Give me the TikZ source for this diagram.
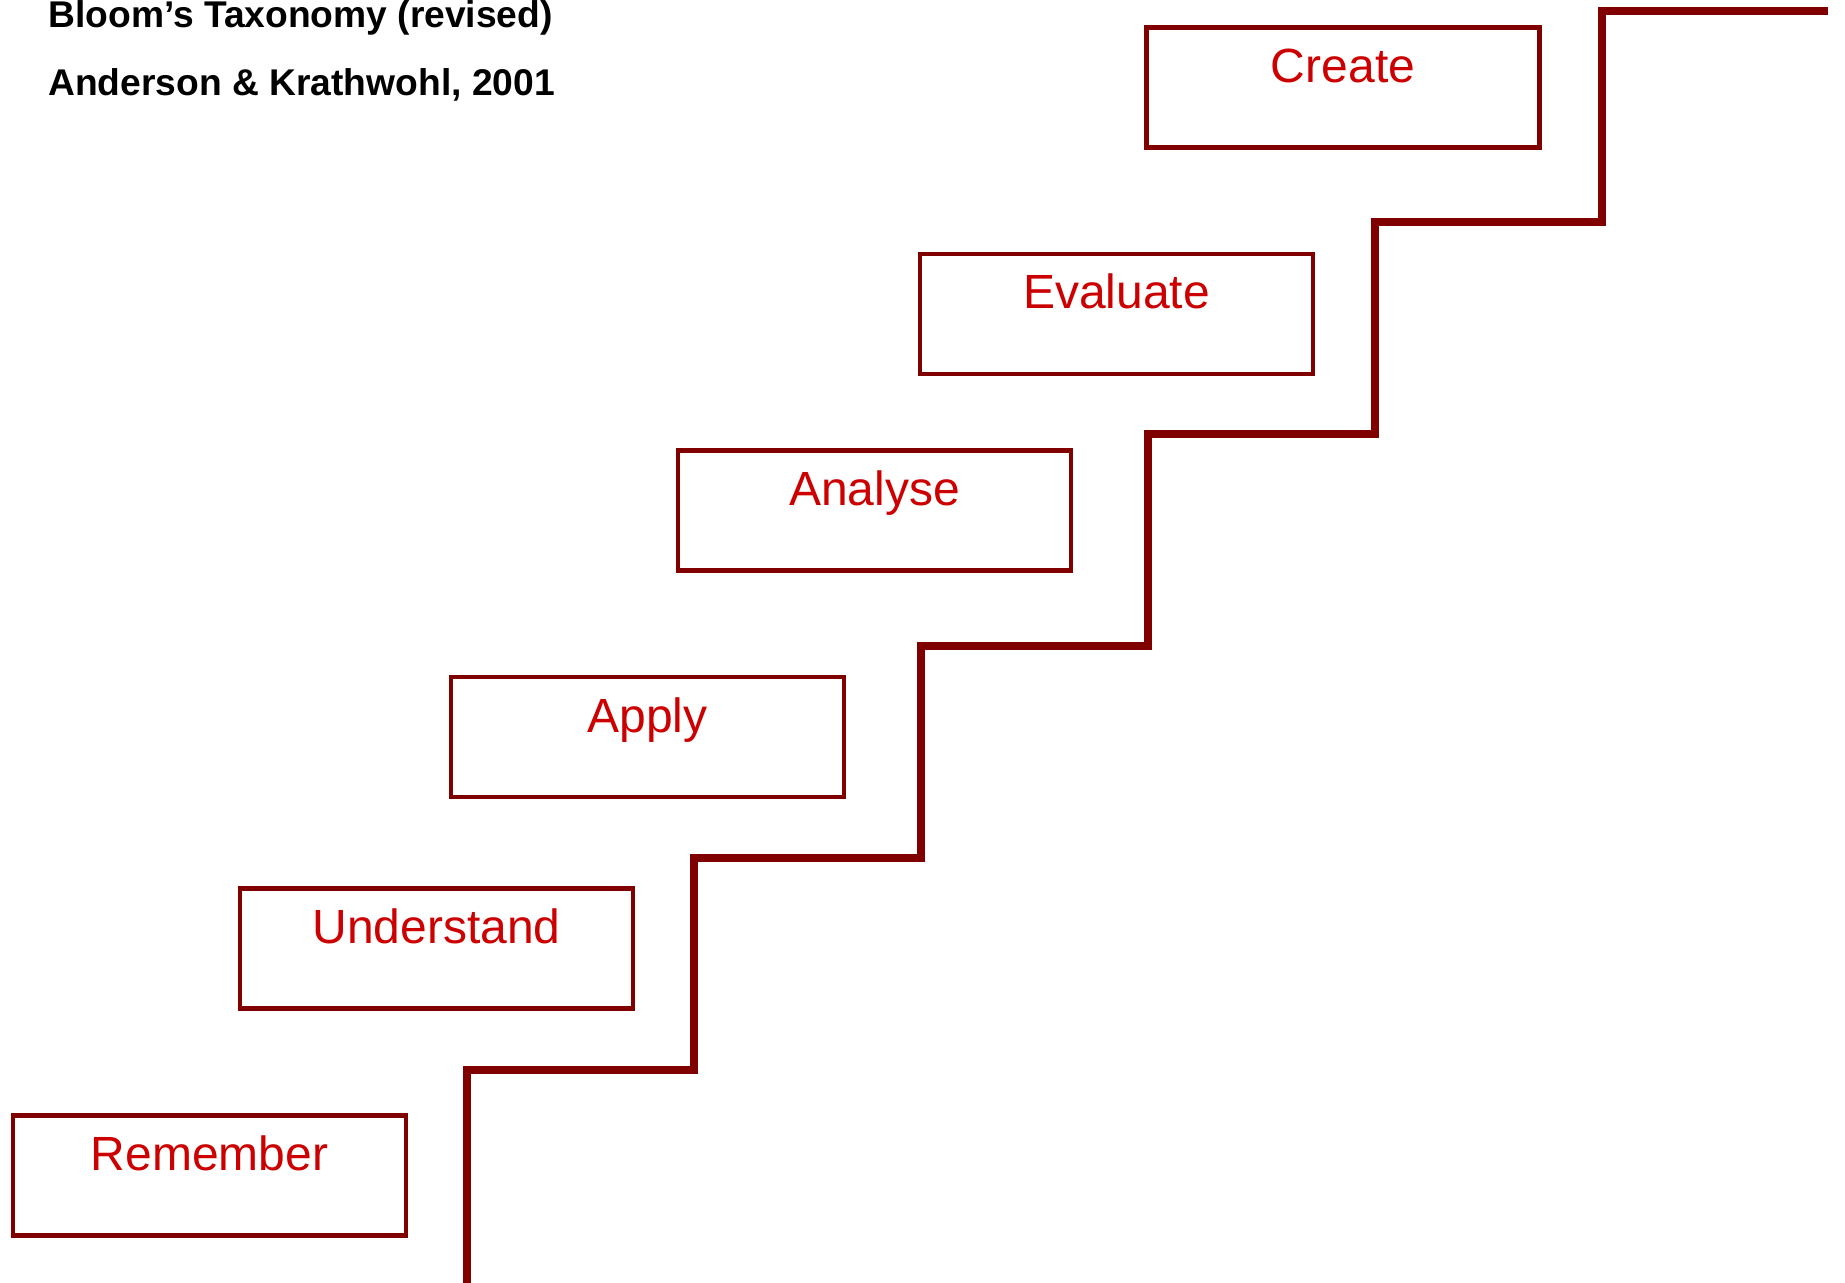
\documentclass[tikz,border=0pt]{standalone}
\usepackage{fontspec}
\setmainfont{Liberation Sans}
\definecolor{stairred}{RGB}{128,0,0}
\definecolor{textred}{RGB}{204,0,0}
\begin{document}
\begin{tikzpicture}[x=0.5pt,y=-0.5pt,
  levelbox/.style={draw=stairred, line width=2.25pt, rectangle, inner sep=0pt,
    text width=196.5pt, align=center, text height=27.5pt, text depth=32.5pt,
    font=\fontsize{24pt}{28pt}\selectfont, text=textred},
  titletext/.style={anchor=base west, inner sep=0pt,
    font=\fontsize{18.6pt}{22pt}\selectfont\bfseries},
  stair/.style={draw=stairred, line width=3.75pt}]
\useasboundingbox (0,0) rectangle (1845,1283);
\node[titletext] (t1) at (48,28) {Bloom’s Taxonomy (revised)};
\node[titletext] (t2) at (48,96) {Anderson \& Krathwohl, 2001};
\node[levelbox] (remember) at (209.5,1175.5) {Remember};
\node[levelbox] (understand) at (436.5,948.5) {Understand};
\node[levelbox] (apply) at (647.5,737) {Apply};
\node[levelbox] (analyse) at (874.5,510.5) {Analyse};
\node[levelbox] (evaluate) at (1116.5,314) {Evaluate};
\node[levelbox] (create) at (1343,87.5) {Create};
\coordinate (s0) at (467,1283);
\coordinate (s1) at (467,1070);
\coordinate (s2) at (694,1070);
\coordinate (s3) at (694,858);
\coordinate (s4) at (921,858);
\coordinate (s5) at (921,646);
\coordinate (s6) at (1148,646);
\coordinate (s7) at (1148,434);
\coordinate (s8) at (1375,434);
\coordinate (s9) at (1375,222);
\coordinate (s10) at (1602,222);
\coordinate (s11) at (1602,11);
\coordinate (s12) at (1828,11);
\draw[stair] (s0) -- (s1) -- (s2) -- (s3) -- (s4) -- (s5) -- (s6) -- (s7) -- (s8) -- (s9) -- (s10) -- (s11) -- (s12);
\end{tikzpicture}
\end{document}
